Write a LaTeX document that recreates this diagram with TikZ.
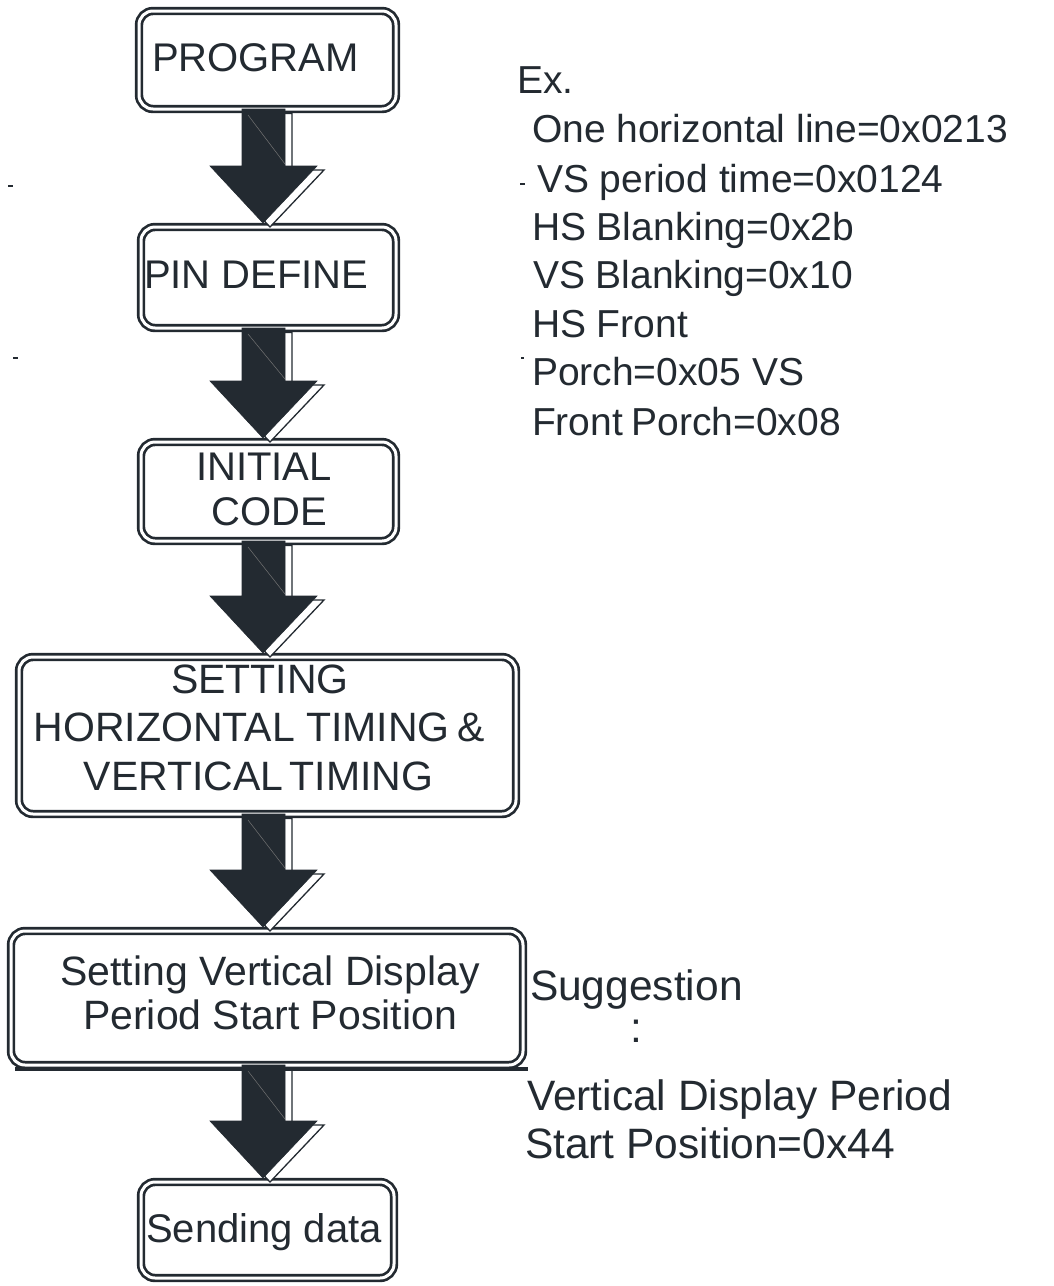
\documentclass[tikz,border=0pt]{standalone}
\usepackage{fontspec}
\setmainfont{Liberation Sans}
\usetikzlibrary{calc}
\definecolor{dk}{RGB}{35,42,49}
\tikzset{
  box/.style={draw=dk, double=white, double distance=3pt, line width=2.7pt,
    rounded corners=14pt, fill=white, inner sep=0pt, outer sep=0pt},
  txt/.style={inner sep=0pt, outer sep=0pt, text=dk, font=\fontsize{40}{48}\selectfont},
  txtb/.style={txt, font=\fontsize{41}{49}\selectfont},
  txtr/.style={txt, font=\fontsize{39}{47}\selectfont},
  txts/.style={txt, font=\fontsize{42.5}{50}\selectfont},
  arrowshadow/.style={draw=dk, line width=1.3pt, fill=white, line join=miter},
  arrowbody/.style={draw=dk, line width=0.6pt, fill=dk},
  arrowline/.style={draw=black!55, line width=0.5pt},
  strayline/.style={draw=dk, line width=1.6pt},
  sepline/.style={draw=dk, line width=3.2pt}
}
\newcommand\flowarrow[2]{%
  \draw[arrowshadow] let \p1=(#1.south), \p2=(#2.north) in
    (249pt,\y1-4.5pt) -- (292pt,\y1-4.5pt) -- (292pt,\y2+57pt) -- (324pt,\y2+57pt)
    -- (270pt,\y2) -- (217pt,\y2+57pt) -- (249pt,\y2+57pt) -- cycle;
  \draw[arrowbody] let \p1=(#1.south), \p2=(#2.north) in
    (242pt,\y1) -- (285pt,\y1) -- (285pt,\y2+61pt) -- (317pt,\y2+61pt)
    -- (263pt,\y2+4pt) -- (210pt,\y2+61pt) -- (242pt,\y2+61pt) -- cycle;
  \draw[arrowline] let \p1=(#1.south), \p2=(#2.north) in
    (248pt,\y1-6pt) -- (285pt,\y2+63pt);
}
\begin{document}
\begin{tikzpicture}[x=1pt,y=-1pt]
\fill[white] (0,0) rectangle (1053,1286);
\useasboundingbox (0,0) rectangle (1053,1286);

% boxes
\node[box, minimum width=257pt, minimum height=98pt]  (b1) at (267.5,60) {};
\node[box, minimum width=255pt, minimum height=101pt] (b2) at (268.5,277.5) {};
\node[box, minimum width=255pt, minimum height=99pt]  (b3) at (268.5,491.5) {};
\node[box, minimum width=497pt, minimum height=157pt] (b4) at (267.5,735.5) {};
\node[box, minimum width=512pt, minimum height=134pt] (b5) at (267,998) {};
\node[box, minimum width=253pt, minimum height=96pt]  (b6) at (267.5,1230) {};

% box texts
\node[txt, anchor=base west] (t1) at (152,71) {PROGRAM};
\node[txt, anchor=base west] (t2) at (144,288) {PIN DEFINE};
\node[txt, anchor=base] (t3a) at (264,480) {INITIAL};
\node[txt, anchor=base] (t3b) at (269,525) {CODE};
\node[txtb, anchor=base] (t4a) at (260,693) {SETTING};
\node[txtb, anchor=base] (t4b) at (259,741) {HORIZONTAL TIMING\hspace{0.18em}\&};
\node[txtb, anchor=base] (t4c) at (258.5,790) {VERTICAL\hspace{0.15em}TIMING};
\node[txtb, anchor=base] (t5a) at (270,985) {Setting Vertical Display};
\node[txtb, anchor=base] (t5b) at (270,1029) {Period Start Position};
\node[txt, anchor=base] (t6) at (264,1242) {Sending data};

% arrows
\flowarrow{b1}{b2}
\flowarrow{b2}{b3}
\flowarrow{b3}{b4}
\flowarrow{b4}{b5}
\flowarrow{b5}{b6}

% line under box 5
\coordinate (hl1) at (15,1069);
\coordinate (hl2) at (528,1069);
\draw[sepline] (hl1) -- (hl2);

% right-hand notes
\node[txtr, anchor=base west] (r0) at (517,93) {Ex.};
\node[txtr, anchor=base west] (r1) at (532,142) {One horizontal line=0x0213};
\node[txtr, anchor=base west] (r2) at (537,192) {VS period time=0x0124};
\node[txtr, anchor=base west] (r3) at (532,240) {HS Blanking=0x2b};
\node[txtr, anchor=base west] (r4) at (533,288) {VS Blanking=0x10};
\node[txtr, anchor=base west] (r5) at (532,337) {HS Front};
\node[txtr, anchor=base west] (r6) at (532,385) {Porch=0x05 VS};
\node[txtr, anchor=base west] (r7) at (532,435) {Front\hspace{0.22em}Porch=0x08};

\node[txts, anchor=base west] (s0) at (530,1000) {Suggestion};
\node[txts, anchor=base west] (s1) at (630,1042) {:};
\node[txts, anchor=base west] (s2) at (527,1110) {Vertical Display Period};
\node[txts, anchor=base west] (s3) at (525,1158) {Start Position=0x44};

% stray marks
\draw[strayline] (8,186) -- (13,186);
\draw[strayline] (13,358) -- (18,358);
\draw[strayline] (520,184) -- (525,184);
\draw[strayline] (521,358) -- (524,358);
\end{tikzpicture}
\end{document}
